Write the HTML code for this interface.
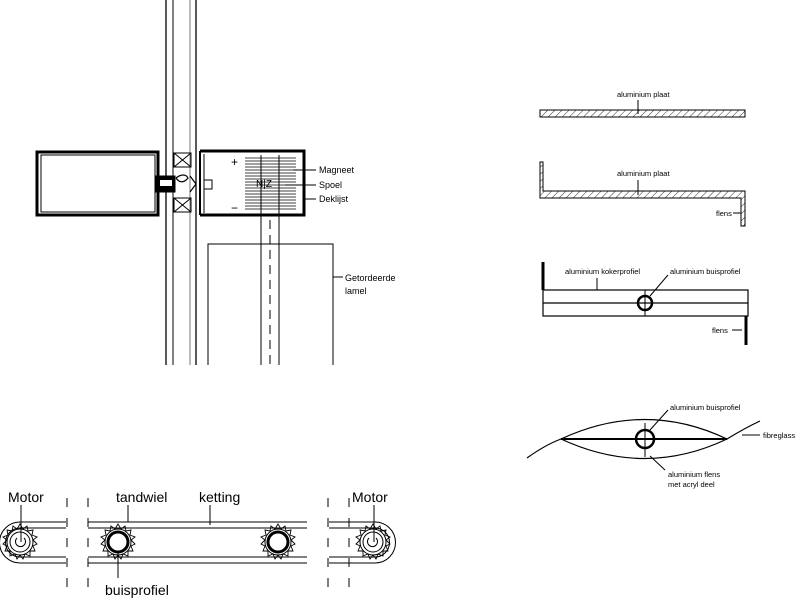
<!DOCTYPE html>
<html><head><style>body{margin:0;background:#fff}svg{display:block}text{font-family:"Liberation Sans",sans-serif;fill:#000}</style></head><body>
<svg width="800" height="600" viewBox="0 0 800 600" xmlns="http://www.w3.org/2000/svg">
<defs>
<pattern id="h" width="5" height="5" patternUnits="userSpaceOnUse" patternTransform="rotate(45)"><line x1="0" y1="0" x2="0" y2="5" stroke="#000" stroke-width="0.8"/></pattern>
<g id="gear"><circle r="13" fill="none" stroke="#000" stroke-width="1"/>
<path d="M0,-18 L3,-13 L7,-16 L8,-11 L13,-12 L12,-7 L17,-5 L13,-2 L17,2 L13,4 L15,9 L10,9 L10,14 L5,12 L3,17 L0,13 L-3,17 L-5,12 L-10,14 L-10,9 L-15,9 L-13,4 L-17,2 L-13,-2 L-17,-5 L-12,-7 L-13,-12 L-8,-11 L-7,-16 L-3,-13 Z" fill="none" stroke="#000" stroke-width="0.9"/></g>
</defs>
<g stroke="#000" fill="none">
<!-- vertical mullion lines -->
<line x1="166" y1="0" x2="166" y2="365" stroke-width="1.3"/>
<line x1="173" y1="0" x2="173" y2="365"/>
<line x1="190" y1="0" x2="190" y2="365" stroke="#777"/>
<line x1="196" y1="0" x2="196" y2="365" stroke-width="1.3"/>
<!-- left box -->
<rect x="37" y="152" width="121" height="63" stroke-width="3"/>
<rect x="41" y="155" width="114" height="57"/>
<rect x="155" y="176" width="20" height="16" fill="#000"/>
<rect x="160" y="180" width="12" height="6" fill="#fff" stroke="none"/>
<rect x="174" y="153" width="17" height="14"/><path d="M174,153 L191,167 M191,153 L174,167"/>
<rect x="174" y="198" width="17" height="14"/><path d="M174,198 L191,212 M191,198 L174,212"/>
<path d="M176,178 c5,-4 10,-4 12,0 c-3,4 -8,6 -12,0 M190,176 L196,184 L190,192" stroke-width="1.2"/>
<rect x="204" y="180" width="8" height="9"/>
<!-- right box -->
<path d="M200,151 H304 V215 H200" stroke-width="3"/>
<line x1="200" y1="151" x2="200" y2="215" stroke-width="2"/>
<line x1="204" y1="154" x2="204" y2="213"/>
<g stroke-width="0.8">
<line x1="245" y1="158" x2="296" y2="158"/><line x1="245" y1="161" x2="296" y2="161"/><line x1="245" y1="164" x2="296" y2="164"/><line x1="245" y1="167" x2="296" y2="167"/><line x1="245" y1="170" x2="296" y2="170"/><line x1="245" y1="173" x2="296" y2="173"/><line x1="245" y1="176" x2="296" y2="176"/><line x1="245" y1="179" x2="296" y2="179"/><line x1="245" y1="182" x2="296" y2="182"/><line x1="245" y1="185" x2="296" y2="185"/><line x1="245" y1="188" x2="296" y2="188"/><line x1="245" y1="191" x2="296" y2="191"/><line x1="245" y1="194" x2="296" y2="194"/><line x1="245" y1="197" x2="296" y2="197"/><line x1="245" y1="200" x2="296" y2="200"/><line x1="245" y1="203" x2="296" y2="203"/><line x1="245" y1="206" x2="296" y2="206"/><line x1="245" y1="209" x2="296" y2="209"/>
</g>
<line x1="261" y1="155" x2="261" y2="365"/><line x1="279" y1="155" x2="279" y2="365"/>
<line x1="270" y1="220" x2="270" y2="365" stroke-dasharray="9,6"/>
<path d="M208,365 V244 H333 V365"/>
<path d="M293,170 H316 M285,185 H316 M304,199 H316 M333,277 H343"/>
<!-- right side plates -->
<rect x="540" y="110" width="205" height="7" fill="url(#h)"/>
<line x1="638" y1="100" x2="638" y2="114"/>
<path d="M540,162 H543 V191 H745 V226 H741 V198 H540 Z" fill="url(#h)"/>
<line x1="638" y1="180" x2="638" y2="195"/><line x1="733" y1="213" x2="741" y2="213"/>
<line x1="543" y1="262" x2="543" y2="290" stroke-width="3"/>
<rect x="543" y="290" width="205" height="26" stroke-width="1.2"/>
<line x1="543" y1="303" x2="748" y2="303" stroke-width="1.2"/>
<line x1="645" y1="290" x2="645" y2="316"/>
<circle cx="645" cy="303" r="7" stroke-width="2.5"/>
<line x1="746" y1="316" x2="746" y2="345" stroke-width="3"/>
<path d="M597,278 V290 M650,296 L668,275 M732,330 H742"/>
<path d="M527,458 Q545,445 561,439 M727,439 Q745,428 760,421" stroke-width="1.2"/>
<path d="M561,439 Q645,400 727,439 Q645,478 561,439 Z" stroke-width="1.2"/>
<line x1="561" y1="439" x2="727" y2="439" stroke-width="2"/>
<line x1="645" y1="423" x2="645" y2="457"/>
<circle cx="645" cy="439" r="9" stroke-width="2.5"/>
<path d="M650,430 L668,410 M650,456 L665,470 M742,435 H760"/>
<!-- chain -->
<path d="M66,522 H20 A20.5,20.5 0 0 0 20,563 H66 M66,528 H20 A14.5,14.5 0 0 0 20,557 H66"/>
<path d="M88,522 H307 M88,528 H307 M88,557 H307 M88,563 H307"/>
<path d="M329,522 H375 A20.5,20.5 0 0 1 375,563 H329 M329,528 H375 A14.5,14.5 0 0 1 375,557 H329"/>
<g stroke-dasharray="9,11"><line x1="67" y1="498" x2="67" y2="590"/><line x1="88" y1="498" x2="88" y2="590"/><line x1="328" y1="498" x2="328" y2="590"/><line x1="349" y1="498" x2="349" y2="590"/></g>
<use href="#gear" x="20" y="542"/><use href="#gear" x="118" y="542"/><use href="#gear" x="278" y="542"/><use href="#gear" x="373" y="542"/>
<circle cx="118" cy="542" r="10" stroke-width="3"/><circle cx="278" cy="542" r="10" stroke-width="3"/>
<circle cx="20" cy="542" r="10"/><circle cx="373" cy="542" r="10"/>
<path d="M24,538 A5,5 0 1 1 17,538 M369,538 A5,5 0 1 0 376,538"/>
<path d="M21,505 V542 M374,505 V542 M128,505 L128,522 M210,505 V525 M118,552 V578"/>
</g>
<g font-size="14">
<text x="8" y="502">Motor</text><text x="116" y="502">tandwiel</text><text x="199" y="502">ketting</text><text x="352" y="502">Motor</text><text x="105" y="595">buisprofiel</text>
</g>
<g font-size="9">
<text x="319" y="173">Magneet</text><text x="319" y="188">Spoel</text><text x="319" y="202">Deklijst</text>
<text x="345" y="281">Getordeerde</text><text x="345" y="294">lamel</text>
<text x="256" y="187" font-size="10">N|Z</text>
</g>
<text x="231" y="166" font-size="12">+</text><text x="231" y="212" font-size="12">−</text>
<g font-size="7.5">
<text x="617" y="97">aluminium plaat</text><text x="617" y="176">aluminium plaat</text><text x="716" y="216">flens</text>
<text x="565" y="274">aluminium kokerprofiel</text><text x="670" y="274">aluminium buisprofiel</text><text x="712" y="333">flens</text>
<text x="670" y="410">aluminium buisprofiel</text><text x="763" y="438">fibreglass</text>
<text x="668" y="477">aluminium flens</text><text x="668" y="487">met acryl deel</text>
</g>
</svg>
</body></html>
